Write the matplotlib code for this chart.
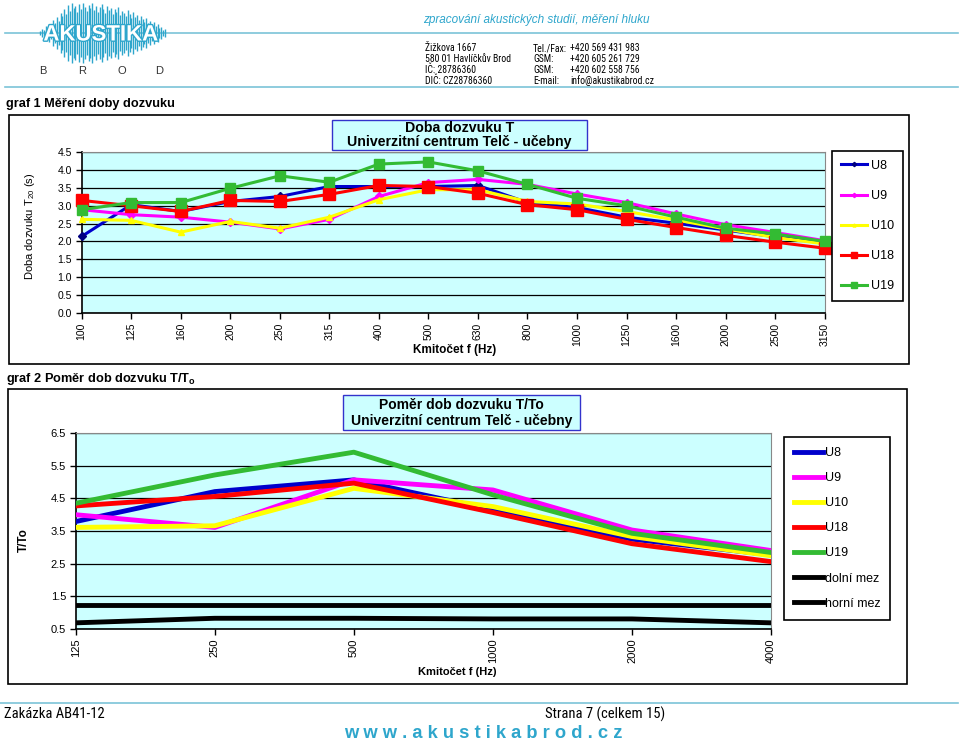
import os
import numpy as np
import matplotlib
matplotlib.use("Agg")
import matplotlib.pyplot as plt
import matplotlib.patheffects as pe
from matplotlib.patches import Rectangle
from matplotlib import font_manager
from matplotlib.font_manager import FontProperties

W, H = 960, 741

SANS = "Liberation Sans"
plt.rcParams["font.family"] = [SANS, "DejaVu Sans"]
plt.rcParams["mathtext.fontset"] = "custom"
plt.rcParams["mathtext.rm"] = SANS
plt.rcParams["mathtext.bf"] = SANS + ":bold"

# graf 1 - doba dozvuku T20 (s)
freq1 = ["100", "125", "160", "200", "250", "315", "400", "500",
         "630", "800", "1000", "1250", "1600", "2000", "2500", "3150"]
u8_t = [2.14, 3.03, 2.84, 3.12, 3.26, 3.54, 3.54, 3.54, 3.57, 3.09, 2.95, 2.68, 2.51, 2.32, 2.13, 1.95]
u9_t = [2.89, 2.75, 2.68, 2.54, 2.35, 2.62, 3.26, 3.65, 3.74, 3.60, 3.33, 3.09, 2.77, 2.47, 2.25, 2.02]
u10_t = [2.62, 2.59, 2.26, 2.56, 2.37, 2.68, 3.17, 3.45, 3.45, 3.12, 3.05, 2.84, 2.60, 2.35, 2.11, 1.93]
u18_t = [3.15, 3.00, 2.84, 3.15, 3.12, 3.32, 3.57, 3.54, 3.35, 3.03, 2.89, 2.62, 2.39, 2.17, 1.98, 1.81]
u19_t = [2.89, 3.09, 3.09, 3.49, 3.84, 3.66, 4.17, 4.23, 3.98, 3.60, 3.21, 3.00, 2.68, 2.37, 2.21, 2.00]

# graf 2 - pomer T/To
freq2 = ["125", "250", "500", "1000", "2000", "4000"]
u8_r = [3.79, 4.71, 5.07, 4.15, 3.25, 2.77]
u9_r = [4.00, 3.61, 5.07, 4.76, 3.53, 2.90]
u10_r = [3.61, 3.66, 4.81, 4.25, 3.33, 2.74]
u18_r = [4.27, 4.56, 4.97, 4.07, 3.11, 2.56]
u19_r = [4.35, 5.22, 5.92, 4.61, 3.43, 2.84]
dolni_mez = [0.68, 0.82, 0.82, 0.80, 0.80, 0.68]
horni_mez = [1.22, 1.22, 1.22, 1.22, 1.22, 1.22]

labels = ["U8", "U9", "U10", "U18", "U19"]
colors = ["#0000CC", "#FF00FF", "#FFFF00", "#FF0000", "#33BB33"]
CYAN = "#2EA6CC"
PLOT_BG = "#CCFFFF"


def find_narrow():
    prefs = ["liberationsansnarrow-regular", "robotocondensed-regular",
             "dejavusanscondensed.ttf", "opensans_condensed-regular",
             "opensans-condensed"]
    files = [f.fname for f in font_manager.fontManager.ttflist]
    for p in prefs:
        for fn in files:
            if p in os.path.basename(fn).lower():
                return fn
    return None


NARROW_FILE = find_narrow()


def narrow(size):
    if NARROW_FILE:
        return FontProperties(fname=NARROW_FILE, size=size)
    return FontProperties(family=SANS, size=size * 0.85)


def rect(x0, y0, x1, y1):
    return [x0 / W, 1 - y1 / H, (x1 - x0) / W, (y1 - y0) / H]


fig = plt.figure(figsize=(W / 100, H / 100), dpi=100)
bg = fig.add_axes([0, 0, 1, 1])
bg.set_xlim(0, W)
bg.set_ylim(H, 0)
bg.axis("off")
bg.set_zorder(0)

# --- hlavicka ---
bg.plot([5, 958], [33, 33], color="#7CC3D8", lw=1.2)
bg.plot([5, 958], [87, 87], color="#7CC3D8", lw=1.2)
wave = [2, 4, 3, 7, 5, 9, 6, 13, 10, 16, 12, 20, 17, 24, 19, 28, 22, 30, 25, 27,
        21, 29, 24, 30, 26, 22, 28, 25, 30, 23, 27, 21, 26, 29, 24, 20, 27, 23, 25, 19,
        24, 21, 26, 18, 22, 20, 17, 23, 19, 15, 21, 16, 18, 13, 17, 14, 11, 15, 10, 12,
        8, 11, 7, 9, 5, 6, 3, 4]
wx = np.linspace(40, 165, len(wave))
bg.vlines(wx, [33 - h for h in wave], [33 + h for h in wave], color=CYAN, lw=1.0)
bg.text(101, 35, "AKUSTIKA", color="white", fontsize=16, fontweight="bold",
        ha="center", va="center",
        path_effects=[pe.withStroke(linewidth=2, foreground=CYAN)])
for lx, ch in zip([43, 82, 122, 159], "BROD"):
    bg.text(lx, 71, ch, fontsize=8, color="#333333", ha="center", va="center")

bg.text(423, 20, "zpracování akustických studií, měření hluku", color=CYAN,
        fontsize=8.5, style="italic", va="center")
addr_l = ["Žižkova 1667", "580 01 Havlíčkův Brod", "IČ: 28786360", "DIČ: CZ28786360"]
addr_k = ["Tel./Fax:", "GSM:", "GSM:", "E-mail:"]
addr_v = ["+420 569 431 983", "+420 605 261 729", "+420 602 558 756", "info@akustikabrod.cz"]
for i, yy in enumerate([48, 59, 70, 81]):
    bg.text(425, yy, addr_l[i], fontproperties=narrow(7), va="center")
    bg.text(533, yy, addr_k[i], fontproperties=narrow(7), va="center")
    bg.text(570, yy, addr_v[i], fontproperties=narrow(7), va="center")

# --- graf 1 ---
bg.text(6, 104, "graf 1 Měření doby dozvuku", fontsize=9.2, fontweight="bold", va="center")
bg.add_patch(Rectangle((9, 115), 900, 249, facecolor="white", edgecolor="black", lw=1.2))
bg.add_patch(Rectangle((332, 120), 255, 30, facecolor=PLOT_BG, edgecolor="#3333CC", lw=1))
bg.text(459.5, 128, "Doba dozvuku T", fontsize=10.2, fontweight="bold", ha="center", va="center")
bg.text(459.5, 142, "Univerzitní centrum Telč - učebny", fontsize=10.2, fontweight="bold",
        ha="center", va="center")
bg.text(455, 350, "Kmitočet f (Hz)", fontsize=8.5, fontweight="bold", ha="center", va="center")
bg.text(30, 226, r"Doba dozvuku T$_{20}$ (s)", fontsize=8, rotation=90,
        ha="center", va="center")

ax1 = fig.add_axes(rect(81.7, 152.3, 824.7, 312.7))
ax1.set_zorder(1)
ax1.set_facecolor(PLOT_BG)
x1 = np.arange(len(freq1))
markers = [("D", 4), ("D", 4), ("^", 4), ("s", 8), ("s", 7.5)]
lines1 = []
for vals, c, (m, ms), lab in zip([u8_t, u9_t, u10_t, u18_t, u19_t], colors, markers, labels):
    mc = "#000080" if lab == "U8" else c
    ln, = ax1.plot(x1, vals, color=c, lw=2.2, marker=m, ms=ms, mfc=mc, mec=mc,
                   clip_on=False, label=lab, zorder=3)
    lines1.append(ln)
ax1.set_xlim(0, len(freq1) - 1)
ax1.set_ylim(0, 4.5)
ax1.set_xticks(x1)
ax1.set_xticklabels(freq1, rotation=90)
ax1.set_yticks(np.arange(0, 4.51, 0.5))
ax1.set_yticklabels([f"{v:.1f}" for v in np.arange(0, 4.51, 0.5)])
ax1.yaxis.grid(True, color="black", lw=0.9)
ax1.set_axisbelow(True)
ax1.tick_params(labelsize=7.5, length=4, width=1, pad=3)
for s in ["top", "right"]:
    ax1.spines[s].set_color("#888888")
for s in ["left", "bottom"]:
    ax1.spines[s].set_color("black")
    ax1.spines[s].set_linewidth(1.2)

fig.legend(lines1, labels, loc="upper left", bbox_to_anchor=(832 / W, 1 - 151 / H),
           borderaxespad=0, fontsize=9, handlelength=2.1, handletextpad=0.3,
           labelspacing=1.45, borderpad=0.7, fancybox=False, edgecolor="black",
           markerscale=0.55, framealpha=1).get_frame().set_linewidth(1.2)

# --- graf 2 ---
bg.text(6, 379, r"graf 2 Poměr dob dozvuku T/T$_\mathbf{o}$", fontsize=9.2,
        fontweight="bold", va="center")
bg.add_patch(Rectangle((8, 389), 899, 295, facecolor="white", edgecolor="black", lw=1.2))
bg.add_patch(Rectangle((343, 395), 237, 35, facecolor=PLOT_BG, edgecolor="#3333CC", lw=1))
bg.text(461.5, 405, "Poměr dob dozvuku T/To", fontsize=10, fontweight="bold",
        ha="center", va="center")
bg.text(461.5, 421, "Univerzitní centrum Telč - učebny", fontsize=10, fontweight="bold",
        ha="center", va="center")
bg.text(457, 672, "Kmitočet f (Hz)", fontsize=8, fontweight="bold", ha="center", va="center")
bg.text(24, 540, "T/To", fontsize=8.5, fontweight="bold", rotation=90,
        ha="center", va="center")

ax2 = fig.add_axes(rect(75.7, 433.3, 771, 628.7))
ax2.set_zorder(1)
ax2.set_facecolor(PLOT_BG)
x2 = np.arange(len(freq2))
lines2 = []
for vals, c, lab in zip([u8_r, u9_r, u10_r, u18_r, u19_r], colors, labels):
    ln, = ax2.plot(x2, vals, color=c, lw=3.5, label=lab, zorder=3)
    lines2.append(ln)
for vals, lab in zip([dolni_mez, horni_mez], ["dolní mez", "horní mez"]):
    ln, = ax2.plot(x2, vals, color="black", lw=3.5, label=lab, zorder=3)
    lines2.append(ln)
ax2.set_xlim(0, len(freq2) - 1)
ax2.set_ylim(0.5, 6.5)
ax2.set_xticks(x2)
ax2.set_xticklabels(freq2, rotation=90)
ax2.set_yticks(np.arange(0.5, 6.51, 1.0))
ax2.set_yticklabels([f"{v:.1f}" for v in np.arange(0.5, 6.51, 1.0)])
ax2.yaxis.grid(True, color="black", lw=0.9)
ax2.set_axisbelow(True)
ax2.tick_params(labelsize=8, length=4, width=1, pad=3)
for s in ["top", "right"]:
    ax2.spines[s].set_color("#888888")
for s in ["left", "bottom"]:
    ax2.spines[s].set_color("black")
    ax2.spines[s].set_linewidth(1.2)

fig.legend(lines2, labels + ["dolní mez", "horní mez"], loc="upper left",
           bbox_to_anchor=(784 / W, 1 - 437 / H), borderaxespad=0, fontsize=9,
           handlelength=2.3, handletextpad=0.15, labelspacing=1.05, borderpad=0.8,
           fancybox=False, edgecolor="black",
           framealpha=1).get_frame().set_linewidth(1.2)

# --- paticka ---
bg.plot([0, 958], [703, 703], color="#7CC3D8", lw=1.2)
bg.text(4, 714, "Zakázka AB41-12", fontproperties=narrow(10.5), va="center")
bg.text(545, 714, "Strana 7 (celkem 15)", fontproperties=narrow(10.5), va="center")
bg.text(483, 733, "w w w . a k u s t i k a b r o d . c z", color=CYAN, fontsize=13.2,
        fontweight="bold", ha="center", va="center")

fig.savefig("out.png", dpi=100)
